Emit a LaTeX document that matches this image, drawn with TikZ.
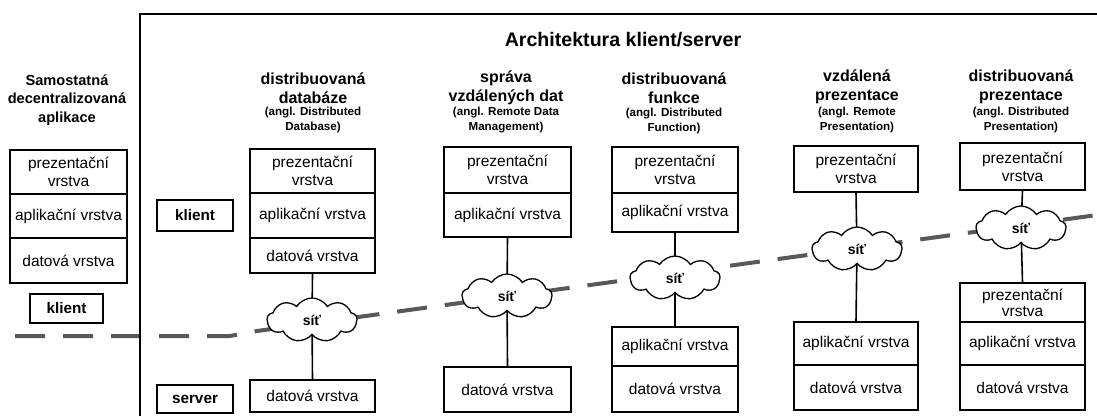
\documentclass[tikz,border=0pt]{standalone}
\usepackage{fontspec}
\setmainfont{Liberation Sans}
\usetikzlibrary{shapes.symbols}
\pgfdeclarelayer{bg}
\pgfsetlayers{bg,main}
\begin{document}
\begin{tikzpicture}[x=1pt,y=-1pt,
  layer/.style={draw, line width=1.6pt, inner sep=0pt, align=center, fill=white,
    font=\fontsize{15.5}{18}\selectfont},
  tag/.style={draw, line width=1.6pt, inner sep=0pt, fill=white,
    font=\bfseries\fontsize{15.3}{18}\selectfont},
  net/.style={cloud, cloud puffs=9, cloud puff arc=115, cloud ignores aspect, minimum width=90pt,
    minimum height=44pt, draw, fill=white, line width=1.3pt, inner sep=0pt,
    font=\bfseries\fontsize{14}{16}\selectfont},
  conn/.style={line width=1.6pt},
  head/.style={align=center, inner sep=0pt, font=\bfseries\fontsize{16}{19}\selectfont},
  sub/.style={align=center, inner sep=0pt, font=\bfseries\fontsize{11.6}{15}\selectfont},
  lhead/.style={align=center, inner sep=0pt, font=\bfseries\fontsize{14.6}{18.5}\selectfont},
  ttl/.style={inner sep=0pt, font=\bfseries\fontsize{19.6}{22}\selectfont},
  sep/.style={line width=4pt, draw=black!65, dash pattern=on 30pt off 18pt},
  frame/.style={line width=2pt}
]
\useasboundingbox (0,0) rectangle (1097,416);

% frame
\draw[frame] (140,416) -- (140,14) -- (1097,14);

% title
\node[ttl] (title) at (623,40) {Architektura klient/server};

% left column
\node[lhead] (h0) at (67,100) {Samostatná\\decentralizovaná\\aplikace};
\node[layer, minimum width=117pt, minimum height=44pt] (l0p) at (68.5,172) {prezentační\\vrstva};
\node[layer, minimum width=117pt, minimum height=44pt] (l0a) at (68.5,216) {aplikační vrstva};
\node[layer, minimum width=117pt, minimum height=45pt] (l0d) at (68.5,260.5) {datová vrstva};
\node[tag, minimum width=73pt, minimum height=29pt] (k0) at (66.5,308.5) {klient};

% klient / server labels
\node[tag, minimum width=76pt, minimum height=31pt] (k1) at (195,215.5) {klient};
\node[tag, minimum width=76pt, minimum height=28pt] (sv) at (195,399) {server};

% column 1
\node[head] (h1) at (313,88) {distribuovaná\\databáze};
\node[sub] (s1) at (313,120) {(angl. Distributed\\Database)};
\node[layer, minimum width=125pt, minimum height=44pt] (c1p) at (312.5,171) {prezentační\\vrstva};
\node[layer, minimum width=125pt, minimum height=45pt] (c1a) at (312.5,215.5) {aplikační vrstva};
\node[layer, minimum width=125pt, minimum height=35pt] (c1d) at (312.5,255.5) {datová vrstva};
\node[layer, minimum width=125pt, minimum height=32pt] (c1sd) at (312.5,396) {datová vrstva};

% column 2
\node[head] (h2) at (506,88) {správa\\vzdálených dat};
\node[sub] (s2) at (506,120) {(angl. Remote Data\\Management)};
\node[layer, minimum width=127pt, minimum height=46pt] (c2p) at (507.5,170) {prezentační\\vrstva};
\node[layer, minimum width=127pt, minimum height=44pt] (c2a) at (507.5,215) {aplikační vrstva};
\node[layer, minimum width=127pt, minimum height=45pt] (c2sd) at (507.5,389.5) {datová vrstva};

% column 3
\node[head] (h3) at (674,88) {distribuovaná\\funkce};
\node[sub] (s3) at (674,121) {(angl. Distributed\\Function)};
\node[layer, minimum width=126pt, minimum height=46pt] (c3p) at (675,170) {prezentační\\vrstva};
\node[layer, minimum width=126pt, minimum height=39pt] (c3a) at (675,212.5) {aplikační vrstva};
\node[layer, minimum width=126pt, minimum height=39pt] (c3sa) at (675,346.5) {aplikační vrstva};
\node[layer, minimum width=126pt, minimum height=46pt] (c3sd) at (675,389) {datová vrstva};

% column 4
\node[head] (h4) at (857,87) {vzdálená\\prezentace};
\node[sub] (s4) at (857,120) {(angl. Remote\\Presentation)};
\node[layer, minimum width=124pt, minimum height=46pt] (c4p) at (856,169) {prezentační\\vrstva};
\node[layer, minimum width=124pt, minimum height=43pt] (c4sa) at (856,343.5) {aplikační vrstva};
\node[layer, minimum width=124pt, minimum height=45pt] (c4sd) at (856,387.5) {datová vrstva};

% column 5
\node[head] (h5) at (1021,87) {distribuovaná\\prezentace};
\node[sub] (s5) at (1021,120) {(angl. Distributed\\Presentation)};
\node[layer, minimum width=125pt, minimum height=47pt] (c5p) at (1022.5,166.5) {prezentační\\vrstva};
\node[layer, minimum width=125pt, minimum height=39pt, font=\fontsize{15.5}{16}\selectfont] (c5sp) at (1022.5,302.5) {prezentační\\vrstva};
\node[layer, minimum width=125pt, minimum height=43pt] (c5sa) at (1022.5,343.5) {aplikační vrstva};
\node[layer, minimum width=125pt, minimum height=45pt] (c5sd) at (1022.5,387.5) {datová vrstva};

% clouds
\node[net] (n1) at (312,320) {síť};
\node[net] (n2) at (507,296) {síť};
\node[net] (n3) at (675,278) {síť};
\node[net] (n4) at (857,249) {síť};
\node[net] (n5) at (1021,228) {síť};

\begin{pgfonlayer}{bg}
  \fill[white] (0,0) rectangle (1097,416);
  \coordinate (d0) at (15,336);
  \coordinate (d1) at (230,336);
  \coordinate (d2) at (257,331);
  \coordinate (d3) at (1097,215);
  \draw[sep] (d0) -- (d1) -- (d2) -- (d3);
  \draw[conn] (c1d.south) -- (n1.center) -- (c1sd.north);
  \draw[conn] (c2a.south) -- (n2.center) -- (c2sd.north);
  \draw[conn] (c3a.south) -- (n3.center) -- (c3sa.north);
  \draw[conn] (c4p.south) -- (n4.center) -- (c4sa.north);
  \draw[conn] (c5p.south) -- (n5.center) -- (c5sp.north);
\end{pgfonlayer}
\end{tikzpicture}
\end{document}
